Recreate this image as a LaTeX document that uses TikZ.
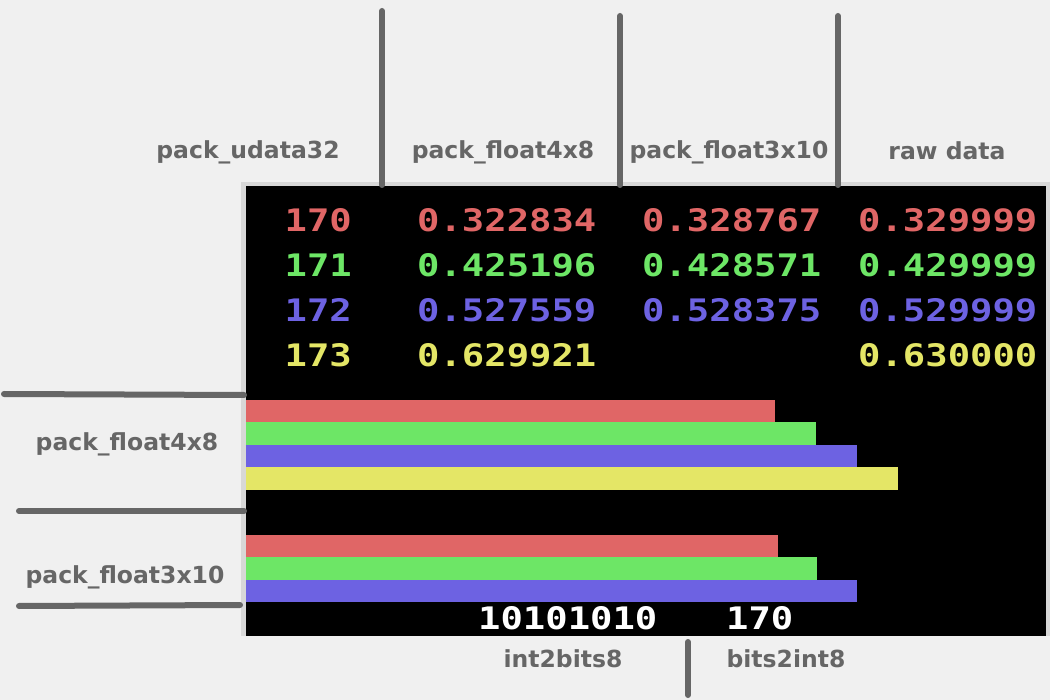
\documentclass[tikz,border=0pt]{standalone}
\usepackage{fontspec}
\setmainfont{DejaVu Sans}
\newfontfamily\pixfont{DejaVu Sans Mono}[FakeStretch=1.2]
\definecolor{bgc}{HTML}{F0F0F0}
\definecolor{rimc}{HTML}{D8D8D8}
\definecolor{inkc}{HTML}{666666}
\definecolor{redc}{HTML}{E06666}
\definecolor{grnc}{HTML}{6DE666}
\definecolor{bluc}{HTML}{6D62E2}
\definecolor{yelc}{HTML}{E4E666}
\tikzset{
  lbl/.style={inner sep=0pt, anchor=base, text=inkc, font=\bfseries\fontsize{23.5}{24}\selectfont},
  num/.style={inner sep=0pt, anchor=west, font=\pixfont\bfseries\fontsize{31}{31}\selectfont},
  rule/.style={draw=inkc, line width=6pt, line cap=round},
}
\begin{document}
\begin{tikzpicture}[x=1pt,y=-1pt]
\useasboundingbox (0,0) rectangle (1050,700);
\fill[bgc] (0,0) rectangle (1050,700);
% panel
\fill[rimc] (241,182) rectangle (1050,636);
\fill[black] (246,186) rectangle (1046,636);
% bars group 1
\fill[redc] (246,400) rectangle (775,422);
\fill[grnc] (246,422) rectangle (816,445);
\fill[bluc] (246,445) rectangle (857,467);
\fill[yelc] (246,467) rectangle (898,490);
% bars group 2
\fill[redc] (246,535) rectangle (778,557);
\fill[grnc] (246,557) rectangle (817,580);
\fill[bluc] (246,580) rectangle (857,602);
% separator lines
\draw[rule] (382,11) -- (382,185);
\draw[rule] (620,16) -- (620,185);
\draw[rule] (838,16) -- (838,185);
\draw[rule] (4,394) -- (244,395);
\draw[rule] (19,511) -- (244,511);
\draw[rule] (19,606) -- (240,605);
\draw[rule] (688,642) -- (688,695);
% labels
\node[lbl] (lu32) at (248,159) {pack\_udata32};
\node[lbl] (lf48) at (503,159) {pack\_float4x8};
\node[lbl] (lf310) at (729,159) {pack\_float3x10};
\node[lbl] (lraw) at (947,160) {raw data};
\node[lbl] (lf48b) at (127,450) {pack\_float4x8};
\node[lbl] (lf310b) at (125,583) {pack\_float3x10};
\node[lbl] (li2b) at (563,667) {int2bits8};
\node[lbl] (lb2i) at (786,667) {bits2int8};
% numbers
\node[num, text=redc, anchor=east] (u1) at (352,220) {170};
\node[num, text=grnc, anchor=east] (u2) at (352,265) {171};
\node[num, text=bluc, anchor=east] (u3) at (352,310) {172};
\node[num, text=yelc, anchor=east] (u4) at (352,355) {173};
\node[num, text=redc] (a1) at (417,220) {0.322834};
\node[num, text=grnc] (a2) at (417,265) {0.425196};
\node[num, text=bluc] (a3) at (417,310) {0.527559};
\node[num, text=yelc] (a4) at (417,355) {0.629921};
\node[num, text=redc] (b1) at (642,220) {0.328767};
\node[num, text=grnc] (b2) at (642,265) {0.428571};
\node[num, text=bluc] (b3) at (642,310) {0.528375};
\node[num, text=redc] (c1) at (858,220) {0.329999};
\node[num, text=grnc] (c2) at (858,265) {0.429999};
\node[num, text=bluc] (c3) at (858,310) {0.529999};
\node[num, text=yelc] (c4) at (858,355) {0.630000};
\node[num, text=white] (bits) at (478,618) {10101010};
\node[num, text=white] (ival) at (726,618) {170};
\end{tikzpicture}
\end{document}
